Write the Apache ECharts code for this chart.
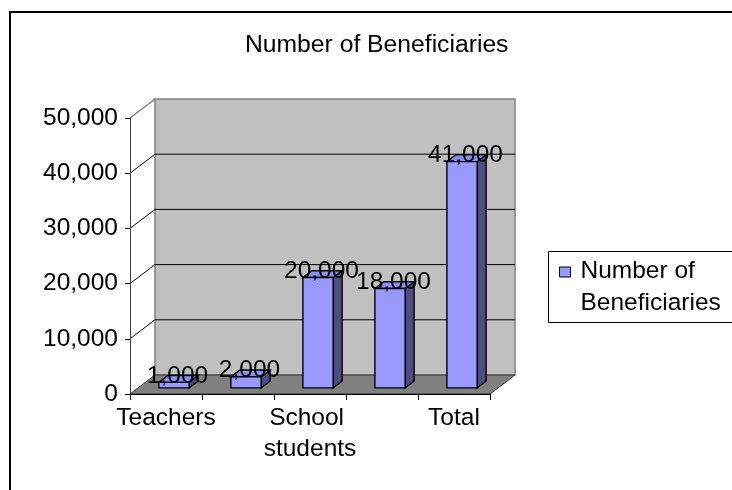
<!DOCTYPE html>
<html>
<head>
<meta charset="utf-8">
<style>
  html, body { margin: 0; padding: 0; background: #fff; }
  #chart { width: 732px; height: 490px; }
</style>
<script src="https://cdn.jsdelivr.net/npm/echarts@6/dist/echarts.min.js"></script>
</head>
<body>
<div id="chart"></div>
<script>
// ---- data ----
const titleText = 'Number of Beneficiaries';
const seriesName = 'Number of Beneficiaries';
const categories = ['Teachers', '', 'School students', '', 'Total'];
const values = [1000, 2000, 20000, 18000, 41000];
const yMin = 0;
const yMax = 50000;
const yStep = 10000;

// ---- style / projection constants ----
const FONT = '"Liberation Sans", Arial, sans-serif';
const DX = 25, DY = -19;         // 3D depth offset of back wall
const F1 = 0.32, F2 = 0.68;      // depth range occupied by bars
const BAR_FRAC = 0.42;           // bar width / band width

function fmt(v) {
  return String(v).replace(/\B(?=(\d{3})+(?!\d))/g, ',');
}

function renderWalls(params, api) {
  const bw = api.size([1, 0])[0];
  const a = api.coord([0, yMin]);
  const L = a[0] - bw / 2;
  const y0 = a[1];
  const R = api.coord([categories.length - 1, yMin])[0] + bw / 2;
  const yTop = api.coord([0, yMax])[1];
  const ch = [];
  ch.push({ type: 'polygon', shape: { points: [[L, y0], [L + DX, y0 + DY], [L + DX, yTop + DY], [L, yTop]] },
            style: { fill: '#ffffff' } });
  ch.push({ type: 'rect', shape: { x: L + DX, y: yTop + DY, width: R - L, height: y0 - yTop },
            style: { fill: '#c0c0c0', stroke: '#808080', lineWidth: 1.5 } });
  for (let v = yMin + yStep; v < yMax; v += yStep) {
    const y = api.coord([0, v])[1];
    ch.push({ type: 'line', shape: { x1: L + DX, y1: y + DY, x2: R + DX, y2: y + DY },
              style: { stroke: '#000', lineWidth: 1 } });
    ch.push({ type: 'line', shape: { x1: L, y1: y, x2: L + DX, y2: y + DY },
              style: { stroke: '#000', lineWidth: 1 } });
  }
  ch.push({ type: 'line', shape: { x1: L, y1: yTop, x2: L + DX, y2: yTop + DY },
            style: { stroke: '#808080', lineWidth: 1.5 } });
  ch.push({ type: 'polygon', shape: { points: [[L, y0], [R, y0], [R + DX, y0 + DY], [L + DX, y0 + DY]] },
            style: { fill: '#808080', stroke: '#333', lineWidth: 1 } });
  return { type: 'group', children: ch };
}

function renderBar(params, api) {
  const i = api.value(0), v = api.value(1);
  const top = api.coord([i, v]);
  const base = api.coord([i, yMin]);
  const bw = api.size([1, 0])[0];
  const w = bw * BAR_FRAC;
  const x1 = top[0] - w / 2 + DX * F1, x2 = x1 + w;
  const yt = top[1] + DY * F1, yb = base[1] + DY * F1;
  const ddx = DX * (F2 - F1), ddy = DY * (F2 - F1);
  const st = { stroke: '#000', lineWidth: 1.4 };
  return {
    type: 'group',
    children: [
      { type: 'polygon', shape: { points: [[x2, yt], [x2 + ddx, yt + ddy], [x2 + ddx, yb + ddy], [x2, yb]] },
        style: Object.assign({ fill: '#4d4d80' }, st) },
      { type: 'polygon', shape: { points: [[x1, yt], [x2, yt], [x2 + ddx, yt + ddy], [x1 + ddx, yt + ddy]] },
        style: Object.assign({ fill: '#8f8ff0' }, st) },
      { type: 'rect', shape: { x: x1, y: yt, width: w, height: yb - yt },
        style: Object.assign({ fill: '#9999ff' }, st) },
      { type: 'text', z2: 100,
        style: { text: fmt(v), x: (x1 + x2 + ddx) / 2 - 1, y: yt + 6, align: 'center', verticalAlign: 'bottom',
                 font: '24.5px ' + FONT, fill: '#000' } }
    ]
  };
}

const chart = echarts.init(document.getElementById('chart'), null, { renderer: 'canvas' });
chart.setOption({
  backgroundColor: '#ffffff',
  animation: false,
  textStyle: { fontFamily: FONT },
  title: {
    text: titleText, left: 240, top: 28,
    textStyle: { fontSize: 24.7, fontWeight: 'normal', color: '#000', fontFamily: FONT }
  },
  graphic: [
    { type: 'rect', z: -10, shape: { x: 10, y: 12, width: 800, height: 600 },
      style: { fill: 'none', stroke: '#000', lineWidth: 2 } },
    { type: 'rect', z: -10, shape: { x: 548.5, y: 251.5, width: 250, height: 71 },
      style: { fill: 'none', stroke: '#000', lineWidth: 1 } }
  ],
  legend: {
    data: [seriesName],
    left: 559, top: 255.5, padding: 0,
    itemWidth: 11, itemHeight: 41, itemGap: 0,
    icon: 'path://M0,0L11,0L11,10L0,10Z M0,41L0.01,41',
    itemStyle: { color: '#9999ff', borderColor: '#000', borderWidth: 1 },
    textStyle: { fontSize: 24.5, color: '#000', fontFamily: FONT, lineHeight: 32, width: 160, overflow: 'break',
                 padding: [0, 0, 0, 5] }
  },
  grid: { left: 130, top: 118, width: 360, height: 276, containLabel: false },
  xAxis: {
    type: 'category', data: categories, z: 3,
    axisLine: { lineStyle: { color: '#000', width: 1 } },
    axisTick: { show: true, interval: 0, length: 6, lineStyle: { color: '#000' } },
    axisLabel: { interval: 0, fontSize: 24.5, color: '#000', fontFamily: FONT, lineHeight: 31, margin: 9,
                 width: 140, overflow: 'break' },
    splitLine: { show: false }
  },
  yAxis: {
    type: 'value', min: yMin, max: yMax, interval: yStep, z: 3,
    axisLine: { show: true, lineStyle: { color: '#404040', width: 1 } },
    axisTick: { show: true, length: 5, lineStyle: { color: '#000' } },
    axisLabel: { fontSize: 24.5, color: '#000', fontFamily: FONT, margin: 12, formatter: fmt },
    splitLine: { show: false }
  },
  series: [
    { type: 'custom', name: 'walls', z: 1, silent: true, renderItem: renderWalls,
      data: [[0, yMin]], encode: { x: 0, y: 1 } },
    { type: 'custom', name: seriesName, z: 2, renderItem: renderBar,
      itemStyle: { color: '#9999ff', borderColor: '#000' },
      data: values.map((v, i) => [i, v]), encode: { x: 0, y: 1 } }
  ]
});
</script>
</body>
</html>
